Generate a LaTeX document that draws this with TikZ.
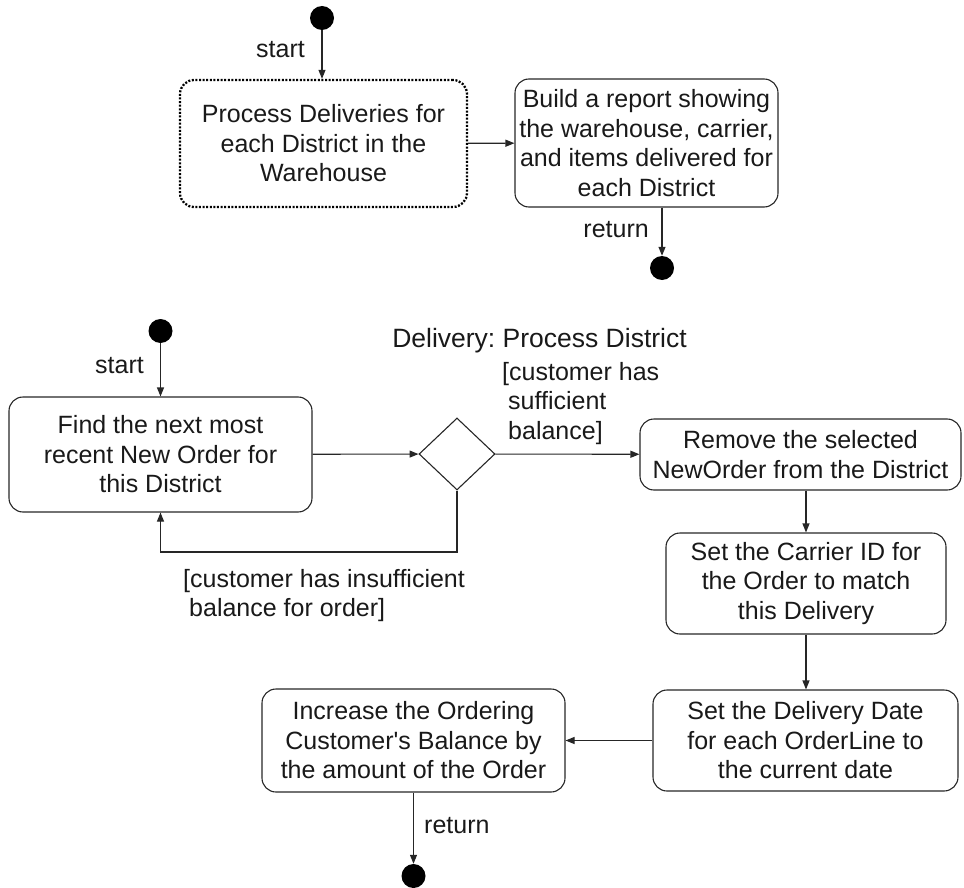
\documentclass[tikz,border=0pt]{standalone}
\usepackage{fontspec}
\setmainfont{Liberation Sans}
\usetikzlibrary{shapes.geometric,arrows.meta}
\frenchspacing
\begin{document}
\begin{tikzpicture}[x=1pt,y=-1pt,
  every node/.style={font=\fontsize{25}{29.5}\selectfont, text=black!90},
  state/.style={draw=black!85, rounded corners=14pt, line width=1.1pt, align=center, inner sep=0pt},
  dottedstate/.style={state, draw=black, line width=2.3pt, dash pattern=on 2pt off 1.6pt},
  flow/.style={draw=black!85, -{Triangle[length=9pt,width=7pt]}, line width=1.1pt},
  dot/.style={circle, fill=black, inner sep=0pt, minimum size=24pt},
  lbl/.style={inner sep=0pt},
  choice/.style={diamond, draw=black!85, line width=1.1pt, inner sep=0pt, minimum width=76pt, minimum height=72pt}]
  \useasboundingbox (0,0) rectangle (964,888);

  % --- Delivery overview ---
  \node[dot] (s1) at (322,18) {};
  \node[dottedstate, minimum width=287pt, minimum height=127pt] (p1) at (323.5,143.5)
    {Process Deliveries for\\each District in the\\Warehouse};
  \node[state, minimum width=263pt, minimum height=128pt] (p2) at (646.5,143)
    {Build a report showing\\the warehouse, carrier,\\and items delivered for\\each District};
  \node[dot] (e1) at (662,268) {};

  \draw[flow] (s1) -- (s1 |- p1.north);
  \draw[flow] (p1) -- (p2);
  \draw[flow] (e1 |- p2.south) -- (e1);

  \node[lbl, anchor=base east] (l1) at (305,58) {start};
  \node[lbl, anchor=base east] (l2) at (649,237) {return};

  % --- Delivery: Process District ---
  \node[lbl, anchor=base, font=\fontsize{26.5}{32}\selectfont] (title) at (539.5,347) {Delivery: Process District};

  \node[dot] (s2) at (160.5,331) {};
  \node[state, minimum width=303pt, minimum height=115pt] (find) at (160.5,454.5)
    {Find the next most\\recent New Order for\\this District};
  \node[choice] (d) at (457,454) {};
  \node[state, minimum width=321pt, minimum height=71pt] (rem) at (800.5,454.5)
    {Remove the selected\\NewOrder from the District};
  \node[state, minimum width=280pt, minimum height=101pt] (car) at (806,583.5)
    {Set the Carrier ID for\\the Order to match\\this Delivery};
  \node[state, minimum width=305pt, minimum height=101pt] (del) at (805.5,740.5)
    {Set the Delivery Date\\for each OrderLine to\\the current date};
  \node[state, minimum width=303pt, minimum height=103pt] (inc) at (413.5,740.5)
    {Increase the Ordering\\Customer\textquotesingle s Balance by\\the amount of the Order};
  \node[dot] (e2) at (413.5,876) {};
  \coordinate (loop) at (457,552);

  \draw[flow] (s2) -- (find);
  \draw[flow] (find) -- (d);
  \draw[flow] (d) -- (rem);
  \draw[flow] (d.south) -- (loop) -| (find.south);
  \draw[flow] (rem.south -| car.north) -- (car);
  \draw[flow] (car) -- (del.north -| car.south);
  \draw[flow] (del) -- (inc);
  \draw[flow] (inc) -- (e2);

  \node[lbl, anchor=base east] (l3) at (144,373) {start};
  \node[lbl, anchor=base west] (l4) at (424,833) {return};
  \node[lbl, anchor=north west, align=left] (g1) at (502,362)
    {[customer has\\\hspace*{6pt}sufficient\\\hspace*{6pt}balance]};
  \node[lbl, anchor=north west, align=left] (g2) at (183,569)
    {[customer has insufficient\\\hspace*{6pt}balance for order]};
\end{tikzpicture}
\end{document}
